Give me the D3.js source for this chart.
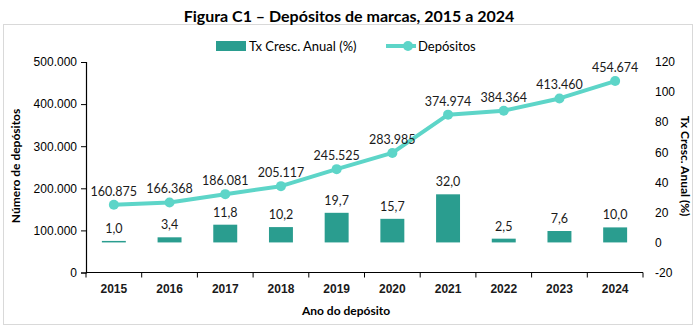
<!DOCTYPE html>
<html>
<head>
<meta charset="utf-8">
<script src="https://cdn.jsdelivr.net/npm/d3@7"></script>
<style>
  body { margin: 0; background: #fff; font-family: Lato, 'Liberation Sans', sans-serif; }
  .tick text { font-size: 12px; fill: #000; }
  .value-label { font-size: 12.5px; fill: #1a1a1a; text-anchor: middle; }
</style>
</head>
<body>
<div id="chart"></div>
<script>
var years = ['2015', '2016', '2017', '2018', '2019', '2020', '2021', '2022', '2023', '2024'];
var depositos = [160875, 166368, 186081, 205117, 245525, 283985, 374974, 384364, 413460, 454674];
var txCresc = [1.0, 3.4, 11.8, 10.2, 19.7, 15.7, 32.0, 2.5, 7.6, 10.0];
var leftTicks = [0, 100000, 200000, 300000, 400000, 500000];
var rightTicks = [-20, 0, 20, 40, 60, 80, 100, 120];

var barColour = '#2a9d8f';
var lineColour = '#5dd5c8';

var pt = d3.formatLocale({ decimal: ',', thousands: '.', grouping: [3], currency: ['', ''], minus: '-' });
var fmtInt = pt.format(',d');
var fmtPct = pt.format(',.1f');
var fmtRight = pt.format('d');

var svg = d3.select('#chart')
    .append('svg')
    .attr('width', 697)
    .attr('height', 335);

// outer frame
svg.append('rect')
    .attr('x', 3.5)
    .attr('y', 24.5)
    .attr('width', 689)
    .attr('height', 300)
    .style('fill', 'none')
    .style('stroke', '#d9d9d9');

svg.append('text')
    .attr('x', 349)
    .attr('y', 22)
    .attr('text-anchor', 'middle')
    .style('font-size', '16px')
    .style('font-weight', 'bold')
    .text('Figura C1 \u2013 Dep\u00f3sitos de marcas, 2015 a 2024');

var plotLeft = 86, plotRight = 643, plotTop = 62, plotBottom = 272.5;

var x = d3.scaleBand().domain(years).range([plotLeft, plotRight]).padding(0);
var yLeft = d3.scaleLinear().domain([0, 500000]).range([plotBottom, plotTop]);
var yRight = d3.scaleLinear().domain([-20, 120]).range([plotBottom, plotTop]);

// bars
var barW = x.bandwidth() * 0.43;
svg.selectAll('.bar')
    .data(years)
    .enter().append('rect')
    .attr('class', 'bar')
    .attr('x', function(d) { return x(d) + (x.bandwidth() - barW) / 2; })
    .attr('y', function(d, i) { return yRight(txCresc[i]); })
    .attr('width', barW)
    .attr('height', function(d, i) { return yRight(0) - yRight(txCresc[i]); })
    .style('fill', barColour);

svg.selectAll('.bar-label')
    .data(years)
    .enter().append('text')
    .attr('class', 'value-label')
    .attr('x', function(d) { return x(d) + x.bandwidth() / 2; })
    .attr('y', function(d, i) { return yRight(txCresc[i]) - 8; })
    .text(function(d, i) { return fmtPct(txCresc[i]); });

// line
var line = d3.line()
    .x(function(d, i) { return x(years[i]) + x.bandwidth() / 2; })
    .y(function(d) { return yLeft(d); });

svg.append('path')
    .datum(depositos)
    .attr('d', line)
    .style('fill', 'none')
    .style('stroke', lineColour)
    .style('stroke-width', 4)
    .style('stroke-linejoin', 'round');

svg.selectAll('.dot')
    .data(depositos)
    .enter().append('circle')
    .attr('cx', function(d, i) { return x(years[i]) + x.bandwidth() / 2; })
    .attr('cy', function(d) { return yLeft(d); })
    .attr('r', 5)
    .style('fill', lineColour);

svg.selectAll('.line-label')
    .data(depositos)
    .enter().append('text')
    .attr('class', 'value-label')
    .attr('x', function(d, i) { return x(years[i]) + x.bandwidth() / 2; })
    .attr('y', function(d) { return yLeft(d) - 9; })
    .text(function(d) { return fmtInt(d); });

// axes
var xAxis = svg.append('g')
    .attr('transform', 'translate(0,' + plotBottom + ')')
    .call(d3.axisBottom(x).tickSize(0).tickPadding(12));
xAxis.select('.domain').remove();
xAxis.selectAll('.tick text').style('font-weight', 'bold').style('fill', '#1a1a1a');

svg.append('path')
    .attr('d', 'M' + plotLeft + ',' + plotBottom + 'H' + plotRight)
    .style('stroke', '#000')
    .style('stroke-width', 1.2);

svg.selectAll('.xtick')
    .data(d3.range(years.length + 1))
    .enter().append('line')
    .attr('x1', function(i) { return plotLeft + i * x.bandwidth(); })
    .attr('x2', function(i) { return plotLeft + i * x.bandwidth(); })
    .attr('y1', plotBottom)
    .attr('y2', plotBottom + 5)
    .style('stroke', '#000');

var yAxisLeft = svg.append('g')
    .attr('transform', 'translate(' + plotLeft + ',0)')
    .call(d3.axisLeft(yLeft).tickValues(leftTicks).tickFormat(fmtInt).tickSize(5).tickPadding(4));
yAxisLeft.select('.domain').style('stroke', '#000').style('stroke-width', 1.2);

var yAxisRight = svg.append('g')
    .attr('transform', 'translate(' + plotRight + ',0)')
    .call(d3.axisRight(yRight).tickValues(rightTicks).tickFormat(fmtRight).tickSize(0).tickPadding(12));
yAxisRight.select('.domain').remove();

// axis titles
svg.append('text')
    .attr('transform', 'translate(20,' + 166 + ') rotate(-90)')
    .attr('text-anchor', 'middle')
    .style('font-size', '12px')
    .style('font-weight', 'bold')
    .text('N\u00famero de dep\u00f3sitos');

svg.append('text')
    .attr('transform', 'translate(681,' + 166 + ') rotate(90)')
    .attr('text-anchor', 'middle')
    .style('font-size', '12px')
    .style('font-weight', 'bold')
    .text('Tx Cresc. Anual (%)');

svg.append('text')
    .attr('x', 346)
    .attr('y', 315)
    .attr('text-anchor', 'middle')
    .style('font-size', '12px')
    .style('font-weight', 'bold')
    .text('Ano do dep\u00f3sito');

// legend
var legend = svg.append('g').attr('transform', 'translate(0,46)');
legend.append('rect')
    .attr('x', 216).attr('y', -5).attr('width', 30).attr('height', 10)
    .style('fill', barColour);
legend.append('text')
    .attr('x', 249).attr('y', 5)
    .style('font-size', '13px')
    .text('Tx Cresc. Anual (%)');
legend.append('line')
    .attr('x1', 386).attr('x2', 416).attr('y1', 0).attr('y2', 0)
    .style('stroke', lineColour).style('stroke-width', 4);
legend.append('circle')
    .attr('cx', 408).attr('cy', 0).attr('r', 5)
    .style('fill', lineColour);
legend.append('text')
    .attr('x', 418).attr('y', 5)
    .style('font-size', '13px')
    .text('Dep\u00f3sitos');
</script>
</body>
</html>
